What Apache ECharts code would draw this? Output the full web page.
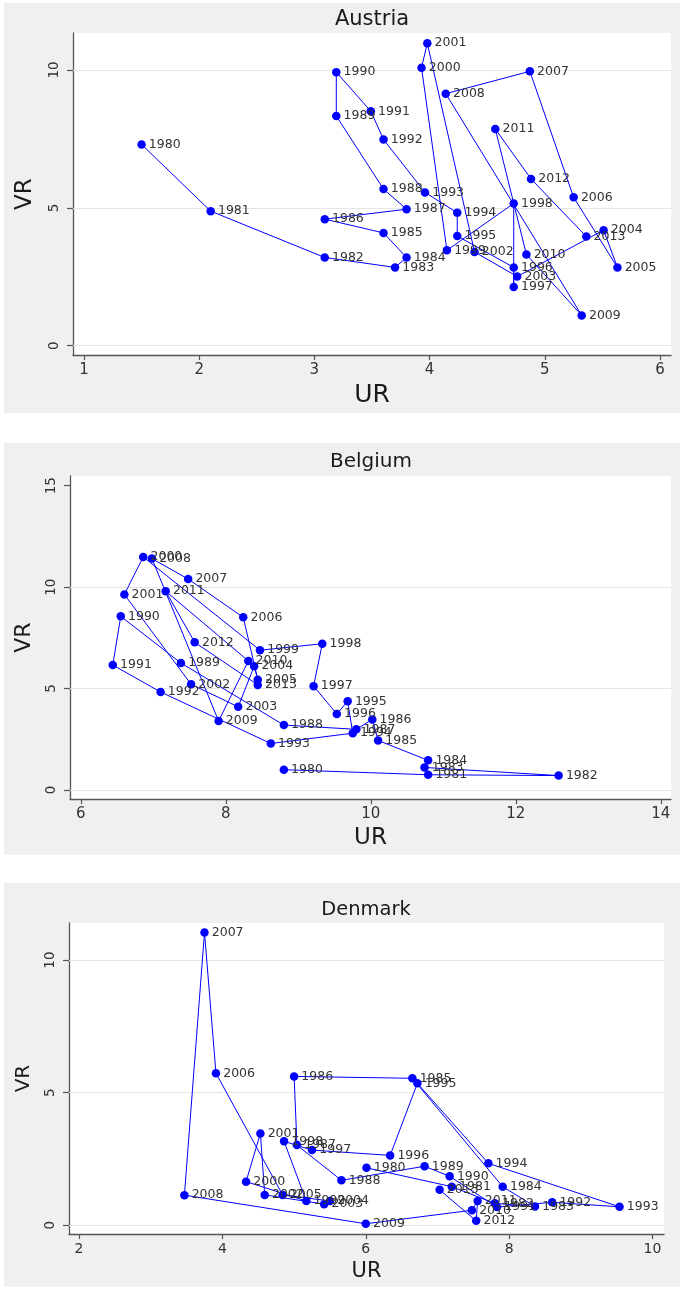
<!DOCTYPE html>
<html>
<head>
    <meta charset="UTF-8">
    <title>UR / VR</title>
    <script src="https://cdn.jsdelivr.net/npm/echarts@6/dist/echarts.min.js"></script>
    <style>
        body { margin: 0; background: #fff; }
        .panel { position: absolute; left: 4px; width: 676px; }
    </style>
</head>
<body>
<div id="austria" class="panel" style="top: 3px; height: 410px;"></div>
<div id="belgium" class="panel" style="top: 443px; height: 412px;"></div>
<div id="denmark" class="panel" style="top: 883px; height: 404px;"></div>

<script type="text/javascript">
    var years = [1980, 1981, 1982, 1983, 1984, 1985, 1986, 1987, 1988, 1989,
                 1990, 1991, 1992, 1993, 1994, 1995, 1996, 1997, 1998, 1999,
                 2000, 2001, 2002, 2003, 2004, 2005, 2006, 2007, 2008, 2009,
                 2010, 2011, 2012, 2013];

    var austriaUR = [1.50, 2.10, 3.09, 3.70, 3.80, 3.60, 3.09, 3.80, 3.60, 3.19,
                     3.19, 3.49, 3.60, 3.96, 4.24, 4.24, 4.73, 4.73, 4.73, 4.15,
                     3.93, 3.98, 4.39, 4.76, 5.51, 5.63, 5.25, 4.87, 4.14, 5.32,
                     4.84, 4.57, 4.88, 5.36];
    var austriaVR = [7.30, 4.88, 3.20, 2.84, 3.20, 4.09, 4.59, 4.95, 5.68, 8.33,
                     9.92, 8.50, 7.48, 5.56, 4.82, 3.98, 2.84, 2.13, 5.16, 3.46,
                     10.08, 10.97, 3.40, 2.51, 4.19, 2.84, 5.38, 9.95, 9.14, 1.10,
                     3.31, 7.86, 6.05, 3.96];

    var belgiumUR = [8.80, 10.79, 12.59, 10.74, 10.79, 10.10, 10.02, 9.80, 8.80, 7.38,
                     6.55, 6.44, 7.10, 8.62, 9.75, 9.68, 9.53, 9.21, 9.33, 8.47,
                     6.86, 6.60, 7.52, 8.17, 8.39, 8.44, 8.24, 7.48, 6.98, 7.90,
                     8.31, 7.17, 7.57, 8.44];
    var belgiumVR = [1.00, 0.75, 0.71, 1.11, 1.46, 2.44, 3.48, 2.99, 3.20, 6.26,
                     8.56, 6.16, 4.83, 2.29, 2.80, 4.37, 3.75, 5.12, 7.21, 6.89,
                     11.49, 9.64, 5.21, 4.10, 6.10, 5.44, 8.51, 10.40, 11.41, 3.40,
                     6.36, 9.80, 7.28, 5.18];

    var denmarkUR = [6.01, 7.20, 7.80, 8.36, 7.91, 6.65, 5.00, 5.04, 5.66, 6.82,
                     7.17, 7.83, 8.60, 9.54, 7.71, 6.72, 6.34, 5.25, 4.86, 5.17,
                     4.33, 4.53, 4.59, 5.42, 5.50, 4.84, 3.91, 3.75, 3.47, 6.00,
                     7.48, 7.56, 7.54, 7.03];
    var denmarkVR = [2.16, 1.45, 0.82, 0.70, 1.45, 5.54, 5.61, 3.02, 1.69, 2.22,
                     1.84, 0.68, 0.86, 0.69, 2.33, 5.35, 2.63, 2.83, 3.16, 0.91,
                     1.64, 3.46, 1.14, 0.79, 0.91, 1.14, 5.73, 11.04, 1.13, 0.05,
                     0.56, 0.91, 0.16, 1.33];

    // tick labels per panel
    var austriaXTicks = [1, 2, 3, 4, 5, 6];
    var austriaYTicks = [0, 5, 10];
    var belgiumXTicks = [6, 8, 10, 12, 14];
    var belgiumYTicks = [0, 5, 10, 15];
    var denmarkXTicks = [2, 4, 6, 8, 10];
    var denmarkYTicks = [0, 5, 10];

    var FONT = '"DejaVu Sans", sans-serif';

    function drawPanel(id, name, ur, vr, xTicks, yTicks, gridLines, cfg) {
        var chart = echarts.init(document.getElementById(id));
        var points = [];
        for (var i = 0; i < ur.length; i++) {
            points.push([ur[i], vr[i]]);
        }
        chart.setOption({
            animation: false,
            backgroundColor: '#eff0f2',
            graphic: [{
                type: 'text',
                x: cfg.titleX,
                y: cfg.titleY,
                style: {
                    text: name,
                    fill: '#1a1a1a',
                    font: cfg.titleSize + 'px ' + FONT,
                    align: 'center',
                    verticalAlign: 'middle'
                }
            }],
            grid: {
                left: cfg.grid[0], top: cfg.grid[1], width: cfg.grid[2], height: cfg.grid[3],
                show: true, backgroundColor: '#fff', borderWidth: 0
            },
            xAxis: {
                type: 'value',
                min: cfg.xRange[0], max: cfg.xRange[1],
                name: 'UR', nameLocation: 'middle', nameGap: cfg.xNameGap,
                nameTextStyle: {color: '#1a1a1a', fontSize: cfg.urSize, fontFamily: FONT},
                axisLine: {show: true, onZero: false, lineStyle: {color: '#555', width: 1.3}},
                axisTick: {show: true, length: 5, customValues: xTicks, lineStyle: {color: '#555', width: 1.2}},
                axisLabel: {customValues: xTicks, margin: 8, color: '#333', fontSize: cfg.xTickSize, fontFamily: FONT},
                splitLine: {show: false}
            },
            yAxis: {
                type: 'value',
                min: cfg.yRange[0], max: cfg.yRange[1],
                name: 'VR', nameLocation: 'middle', nameGap: cfg.yNameGap,
                nameTextStyle: {color: '#1a1a1a', fontSize: cfg.vrSize, fontFamily: FONT},
                axisLine: {show: true, onZero: false, lineStyle: {color: '#555', width: 1.3}},
                axisTick: {show: true, length: 6, customValues: yTicks, lineStyle: {color: '#555', width: 1.2}},
                axisLabel: {customValues: yTicks, rotate: 90, margin: 12, color: '#333', fontSize: 13.5, fontFamily: FONT},
                splitLine: {show: false}
            },
            series: [{
                type: 'line',
                data: points,
                symbol: 'circle',
                symbolSize: 8.5,
                showSymbol: true,
                z: 2,
                itemStyle: {color: '#0000ff'},
                lineStyle: {color: '#0000ff', width: 1},
                label: {
                    show: true,
                    position: 'right',
                    distance: 3,
                    color: '#333',
                    fontSize: 12.5,
                    fontFamily: FONT,
                    formatter: function (p) { return String(years[p.dataIndex]); }
                },
                markLine: {
                    silent: true,
                    z: 1,
                    symbol: 'none',
                    label: {show: false},
                    lineStyle: {color: '#e6e6e6', type: 'solid', width: 1},
                    data: gridLines.map(function (v) { return {yAxis: v}; })
                }
            }]
        });
        return chart;
    }

    drawPanel('austria', 'Austria', austriaUR, austriaVR, austriaXTicks, austriaYTicks, [0, 5, 10], {
        grid: [69, 30, 598, 329], xRange: [0.905, 6.095], yRange: [-0.34, 11.34],
        titleX: 368, titleY: 17, titleSize: 21, urSize: 25, vrSize: 23,
        xNameGap: 24, yNameGap: 36, xTickSize: 15
    });
    drawPanel('belgium', 'Belgium', belgiumUR, belgiumVR, belgiumXTicks, belgiumYTicks, [0, 5, 10], {
        grid: [66, 33, 601, 330], xRange: [5.85, 14.14], yRange: [-0.45, 15.48],
        titleX: 367, titleY: 19, titleSize: 20, urSize: 23, vrSize: 22,
        xNameGap: 22, yNameGap: 35, xTickSize: 15
    });
    drawPanel('denmark', 'Denmark', denmarkUR, denmarkVR, denmarkXTicks, denmarkYTicks, [0, 5, 10], {
        grid: [65, 40, 595, 312], xRange: [1.86, 10.16], yRange: [-0.34, 11.40],
        titleX: 362, titleY: 27, titleSize: 19.5, urSize: 21, vrSize: 20,
        xNameGap: 22, yNameGap: 35, xTickSize: 14
    });
</script>
</body>
</html>
